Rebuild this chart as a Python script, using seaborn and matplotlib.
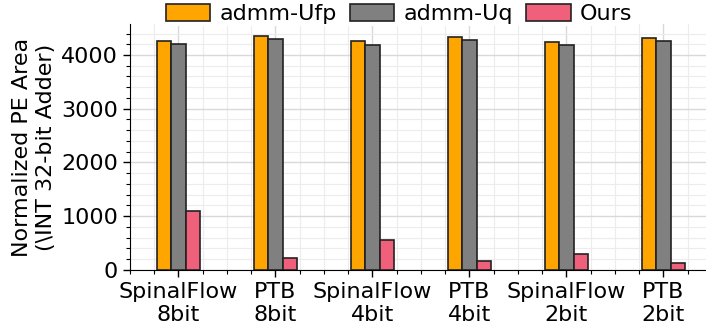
import pandas as pd
import seaborn as sns
import matplotlib
matplotlib.use('Agg')
from matplotlib import pyplot as plt
from matplotlib.ticker import MultipleLocator

# data
workloads = ['SpinalFlow\n8bit', 'PTB\n8bit', 'SpinalFlow\n4bit', 'PTB\n4bit', 'SpinalFlow\n2bit', 'PTB\n2bit']
methods = ['admm-Ufp', 'admm-Uq', 'Ours']
admm_ufp = [4260, 4360, 4260, 4340, 4250, 4325]
admm_uq = [4210, 4300, 4195, 4275, 4180, 4255]
ours = [1100, 230, 555, 160, 290, 130]
colors = ['#FFA500', '#808080', '#F0607A']

rows = []
for name, vals in zip(methods, [admm_ufp, admm_uq, ours]):
    for w, v in zip(workloads, vals):
        rows.append({'workload': w, 'method': name, 'area': v})
df = pd.DataFrame(rows)

sns.set_style('ticks')
plt.rcParams['font.family'] = ['DejaVu Sans']
for k in ['text.color', 'axes.labelcolor', 'xtick.color', 'ytick.color', 'axes.edgecolor']:
    plt.rcParams[k] = 'black'

fig = plt.figure(figsize=(7.06, 3.28), dpi=100)
ax = fig.add_axes([0.184, 0.177, 0.8245, 0.75])

sns.barplot(data=df, x='workload', y='area', hue='method', palette=colors,
            saturation=1, width=0.45, gap=0, edgecolor='#222222', linewidth=1.2,
            errorbar=None, ax=ax, zorder=3)

ax.set_xlim(-0.5, 5.5)
ax.set_ylim(0, max(admm_ufp) * 1.05)
ax.yaxis.set_major_locator(MultipleLocator(1000))
ax.yaxis.set_minor_locator(MultipleLocator(200))
ax.xaxis.set_minor_locator(MultipleLocator(0.25))
ax.grid(which='major', color='#d9d9d9', linewidth=1.0, zorder=0)
ax.grid(which='minor', color='#ececec', linewidth=0.8, zorder=0)
ax.set_axisbelow(True)
ax.spines[['top', 'right']].set_visible(False)
ax.tick_params(axis='both', which='major', labelsize=16, length=5, width=1)
ax.tick_params(axis='both', which='minor', length=3, width=0.8)
ax.set_xlabel('')
ax.set_ylabel('Normalized PE Area\n(\\INT 32-bit Adder)', fontsize=16, labelpad=4)

handles, labels = ax.get_legend_handles_labels()
ax.get_legend().remove()
fig.legend(handles, labels, loc='upper center', bbox_to_anchor=(0.565, 1.028), ncol=3,
           fontsize=16, frameon=True, facecolor='white', edgecolor='none', framealpha=1,
           handlelength=2.0, handleheight=0.75, handletextpad=0.4, columnspacing=0.6,
           borderpad=0.1)

fig.savefig('out.png', dpi=100)
